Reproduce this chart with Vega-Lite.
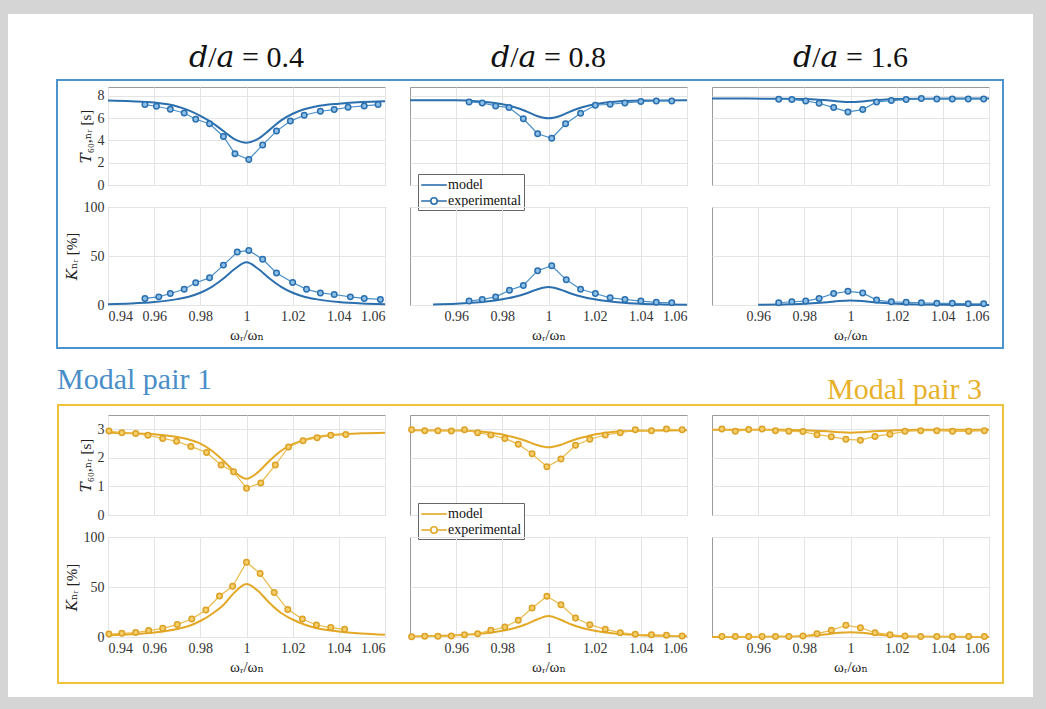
{
"$schema": "https://vega.github.io/schema/vega-lite/v6.json",
"background": "#d5d5d5",
"padding": {"left": 8, "top": 14, "right": 13, "bottom": 12},
"datasets": {"d": [
{"g":1,"c":1,"q":"T","s":"m","x":0.94,"y":7.58},{"g":1,"c":1,"q":"T","s":"m","x":0.95,"y":7.52},{"g":1,"c":1,"q":"T","s":"m","x":0.96,"y":7.4},{"g":1,"c":1,"q":"T","s":"m","x":0.97,"y":7.05},{"g":1,"c":1,"q":"T","s":"m","x":0.975,"y":6.7},{"g":1,"c":1,"q":"T","s":"m","x":0.98,"y":6.2},{"g":1,"c":1,"q":"T","s":"m","x":0.985,"y":5.6},{"g":1,"c":1,"q":"T","s":"m","x":0.99,"y":4.85},{"g":1,"c":1,"q":"T","s":"m","x":0.995,"y":4.1},{"g":1,"c":1,"q":"T","s":"m","x":1.0,"y":3.8},{"g":1,"c":1,"q":"T","s":"m","x":1.005,"y":4.15},{"g":1,"c":1,"q":"T","s":"m","x":1.01,"y":4.95},{"g":1,"c":1,"q":"T","s":"m","x":1.015,"y":5.8},{"g":1,"c":1,"q":"T","s":"m","x":1.02,"y":6.4},{"g":1,"c":1,"q":"T","s":"m","x":1.025,"y":6.8},{"g":1,"c":1,"q":"T","s":"m","x":1.03,"y":7.05},{"g":1,"c":1,"q":"T","s":"m","x":1.04,"y":7.3},{"g":1,"c":1,"q":"T","s":"m","x":1.05,"y":7.45},{"g":1,"c":1,"q":"T","s":"m","x":1.06,"y":7.52},
{"g":1,"c":1,"q":"T","s":"e","x":0.956,"y":7.22},{"g":1,"c":1,"q":"T","s":"e","x":0.961,"y":7.07},{"g":1,"c":1,"q":"T","s":"e","x":0.967,"y":6.8},{"g":1,"c":1,"q":"T","s":"e","x":0.973,"y":6.47},{"g":1,"c":1,"q":"T","s":"e","x":0.978,"y":5.9},{"g":1,"c":1,"q":"T","s":"e","x":0.984,"y":5.5},{"g":1,"c":1,"q":"T","s":"e","x":0.99,"y":4.36},{"g":1,"c":1,"q":"T","s":"e","x":0.995,"y":2.8},{"g":1,"c":1,"q":"T","s":"e","x":1.001,"y":2.29},{"g":1,"c":1,"q":"T","s":"e","x":1.007,"y":3.6},{"g":1,"c":1,"q":"T","s":"e","x":1.013,"y":4.84},{"g":1,"c":1,"q":"T","s":"e","x":1.019,"y":5.74},{"g":1,"c":1,"q":"T","s":"e","x":1.025,"y":6.26},{"g":1,"c":1,"q":"T","s":"e","x":1.032,"y":6.62},{"g":1,"c":1,"q":"T","s":"e","x":1.038,"y":6.77},{"g":1,"c":1,"q":"T","s":"e","x":1.044,"y":6.98},{"g":1,"c":1,"q":"T","s":"e","x":1.051,"y":7.1},{"g":1,"c":1,"q":"T","s":"e","x":1.057,"y":7.22},
{"g":1,"c":1,"q":"K","s":"m","x":0.94,"y":0.8},{"g":1,"c":1,"q":"K","s":"m","x":0.95,"y":1.5},{"g":1,"c":1,"q":"K","s":"m","x":0.96,"y":3.0},{"g":1,"c":1,"q":"K","s":"m","x":0.97,"y":6.0},{"g":1,"c":1,"q":"K","s":"m","x":0.975,"y":8.5},{"g":1,"c":1,"q":"K","s":"m","x":0.98,"y":12.5},{"g":1,"c":1,"q":"K","s":"m","x":0.985,"y":18.5},{"g":1,"c":1,"q":"K","s":"m","x":0.99,"y":27},{"g":1,"c":1,"q":"K","s":"m","x":0.995,"y":37},{"g":1,"c":1,"q":"K","s":"m","x":1.0,"y":43.5},{"g":1,"c":1,"q":"K","s":"m","x":1.005,"y":37},{"g":1,"c":1,"q":"K","s":"m","x":1.01,"y":27},{"g":1,"c":1,"q":"K","s":"m","x":1.015,"y":18.5},{"g":1,"c":1,"q":"K","s":"m","x":1.02,"y":12.5},{"g":1,"c":1,"q":"K","s":"m","x":1.025,"y":8.5},{"g":1,"c":1,"q":"K","s":"m","x":1.03,"y":6.0},{"g":1,"c":1,"q":"K","s":"m","x":1.04,"y":3.0},{"g":1,"c":1,"q":"K","s":"m","x":1.05,"y":1.5},{"g":1,"c":1,"q":"K","s":"m","x":1.06,"y":0.8},
{"g":1,"c":1,"q":"K","s":"e","x":0.956,"y":6.7},{"g":1,"c":1,"q":"K","s":"e","x":0.962,"y":8.3},{"g":1,"c":1,"q":"K","s":"e","x":0.967,"y":11.7},{"g":1,"c":1,"q":"K","s":"e","x":0.973,"y":16},{"g":1,"c":1,"q":"K","s":"e","x":0.978,"y":22.7},{"g":1,"c":1,"q":"K","s":"e","x":0.984,"y":27.7},{"g":1,"c":1,"q":"K","s":"e","x":0.99,"y":40.7},{"g":1,"c":1,"q":"K","s":"e","x":0.996,"y":54},{"g":1,"c":1,"q":"K","s":"e","x":1.001,"y":55.7},{"g":1,"c":1,"q":"K","s":"e","x":1.007,"y":46.7},{"g":1,"c":1,"q":"K","s":"e","x":1.013,"y":32.7},{"g":1,"c":1,"q":"K","s":"e","x":1.02,"y":23},{"g":1,"c":1,"q":"K","s":"e","x":1.026,"y":16},{"g":1,"c":1,"q":"K","s":"e","x":1.032,"y":12.3},{"g":1,"c":1,"q":"K","s":"e","x":1.038,"y":10.7},{"g":1,"c":1,"q":"K","s":"e","x":1.045,"y":8.3},{"g":1,"c":1,"q":"K","s":"e","x":1.051,"y":6.7},{"g":1,"c":1,"q":"K","s":"e","x":1.058,"y":5.7},
{"g":1,"c":2,"q":"T","s":"m","x":0.94,"y":7.62},{"g":1,"c":2,"q":"T","s":"m","x":0.96,"y":7.6},{"g":1,"c":2,"q":"T","s":"m","x":0.97,"y":7.5},{"g":1,"c":2,"q":"T","s":"m","x":0.975,"y":7.4},{"g":1,"c":2,"q":"T","s":"m","x":0.98,"y":7.25},{"g":1,"c":2,"q":"T","s":"m","x":0.985,"y":7.0},{"g":1,"c":2,"q":"T","s":"m","x":0.99,"y":6.65},{"g":1,"c":2,"q":"T","s":"m","x":0.995,"y":6.2},{"g":1,"c":2,"q":"T","s":"m","x":1.0,"y":6.0},{"g":1,"c":2,"q":"T","s":"m","x":1.005,"y":6.2},{"g":1,"c":2,"q":"T","s":"m","x":1.01,"y":6.65},{"g":1,"c":2,"q":"T","s":"m","x":1.015,"y":7.0},{"g":1,"c":2,"q":"T","s":"m","x":1.02,"y":7.25},{"g":1,"c":2,"q":"T","s":"m","x":1.025,"y":7.4},{"g":1,"c":2,"q":"T","s":"m","x":1.03,"y":7.5},{"g":1,"c":2,"q":"T","s":"m","x":1.04,"y":7.58},{"g":1,"c":2,"q":"T","s":"m","x":1.06,"y":7.62},
{"g":1,"c":2,"q":"T","s":"e","x":0.9656,"y":7.46},{"g":1,"c":2,"q":"T","s":"e","x":0.9713,"y":7.37},{"g":1,"c":2,"q":"T","s":"e","x":0.9771,"y":7.1},{"g":1,"c":2,"q":"T","s":"e","x":0.9829,"y":6.95},{"g":1,"c":2,"q":"T","s":"e","x":0.9891,"y":5.95},{"g":1,"c":2,"q":"T","s":"e","x":0.9953,"y":4.6},{"g":1,"c":2,"q":"T","s":"e","x":1.0014,"y":4.2},{"g":1,"c":2,"q":"T","s":"e","x":1.0074,"y":5.5},{"g":1,"c":2,"q":"T","s":"e","x":1.0139,"y":6.44},{"g":1,"c":2,"q":"T","s":"e","x":1.0203,"y":7.16},{"g":1,"c":2,"q":"T","s":"e","x":1.0267,"y":7.25},{"g":1,"c":2,"q":"T","s":"e","x":1.0331,"y":7.37},{"g":1,"c":2,"q":"T","s":"e","x":1.04,"y":7.49},{"g":1,"c":2,"q":"T","s":"e","x":1.0467,"y":7.55},{"g":1,"c":2,"q":"T","s":"e","x":1.0534,"y":7.55},
{"g":1,"c":2,"q":"K","s":"m","x":0.95,"y":0.5},{"g":1,"c":2,"q":"K","s":"m","x":0.96,"y":1.2},{"g":1,"c":2,"q":"K","s":"m","x":0.97,"y":2.8},{"g":1,"c":2,"q":"K","s":"m","x":0.975,"y":4},{"g":1,"c":2,"q":"K","s":"m","x":0.98,"y":5.8},{"g":1,"c":2,"q":"K","s":"m","x":0.985,"y":8.2},{"g":1,"c":2,"q":"K","s":"m","x":0.99,"y":11.5},{"g":1,"c":2,"q":"K","s":"m","x":0.995,"y":15.8},{"g":1,"c":2,"q":"K","s":"m","x":1.0,"y":18.3},{"g":1,"c":2,"q":"K","s":"m","x":1.005,"y":15.8},{"g":1,"c":2,"q":"K","s":"m","x":1.01,"y":11.5},{"g":1,"c":2,"q":"K","s":"m","x":1.015,"y":8.2},{"g":1,"c":2,"q":"K","s":"m","x":1.02,"y":5.8},{"g":1,"c":2,"q":"K","s":"m","x":1.025,"y":4},{"g":1,"c":2,"q":"K","s":"m","x":1.03,"y":2.8},{"g":1,"c":2,"q":"K","s":"m","x":1.04,"y":1.2},{"g":1,"c":2,"q":"K","s":"m","x":1.05,"y":0.6},{"g":1,"c":2,"q":"K","s":"m","x":1.06,"y":0.3},
{"g":1,"c":2,"q":"K","s":"e","x":0.9656,"y":4},{"g":1,"c":2,"q":"K","s":"e","x":0.9713,"y":5.7},{"g":1,"c":2,"q":"K","s":"e","x":0.9771,"y":8.3},{"g":1,"c":2,"q":"K","s":"e","x":0.9831,"y":15},{"g":1,"c":2,"q":"K","s":"e","x":0.9891,"y":20},{"g":1,"c":2,"q":"K","s":"e","x":0.9953,"y":35},{"g":1,"c":2,"q":"K","s":"e","x":1.0014,"y":40},{"g":1,"c":2,"q":"K","s":"e","x":1.0077,"y":25.7},{"g":1,"c":2,"q":"K","s":"e","x":1.0139,"y":16},{"g":1,"c":2,"q":"K","s":"e","x":1.0203,"y":11.7},{"g":1,"c":2,"q":"K","s":"e","x":1.0267,"y":7.3},{"g":1,"c":2,"q":"K","s":"e","x":1.0331,"y":5.7},{"g":1,"c":2,"q":"K","s":"e","x":1.04,"y":4},{"g":1,"c":2,"q":"K","s":"e","x":1.0467,"y":2.7},{"g":1,"c":2,"q":"K","s":"e","x":1.0534,"y":2.3},
{"g":1,"c":3,"q":"T","s":"m","x":0.94,"y":7.76},{"g":1,"c":3,"q":"T","s":"m","x":0.97,"y":7.75},{"g":1,"c":3,"q":"T","s":"m","x":0.98,"y":7.72},{"g":1,"c":3,"q":"T","s":"m","x":0.985,"y":7.68},{"g":1,"c":3,"q":"T","s":"m","x":0.99,"y":7.6},{"g":1,"c":3,"q":"T","s":"m","x":0.995,"y":7.5},{"g":1,"c":3,"q":"T","s":"m","x":1.0,"y":7.45},{"g":1,"c":3,"q":"T","s":"m","x":1.005,"y":7.5},{"g":1,"c":3,"q":"T","s":"m","x":1.01,"y":7.6},{"g":1,"c":3,"q":"T","s":"m","x":1.015,"y":7.68},{"g":1,"c":3,"q":"T","s":"m","x":1.02,"y":7.72},{"g":1,"c":3,"q":"T","s":"m","x":1.03,"y":7.75},{"g":1,"c":3,"q":"T","s":"m","x":1.06,"y":7.76},
{"g":1,"c":3,"q":"T","s":"e","x":0.9689,"y":7.7},{"g":1,"c":3,"q":"T","s":"e","x":0.9746,"y":7.67},{"g":1,"c":3,"q":"T","s":"e","x":0.9806,"y":7.55},{"g":1,"c":3,"q":"T","s":"e","x":0.9864,"y":7.34},{"g":1,"c":3,"q":"T","s":"e","x":0.9927,"y":6.95},{"g":1,"c":3,"q":"T","s":"e","x":0.9989,"y":6.56},{"g":1,"c":3,"q":"T","s":"e","x":1.0053,"y":6.77},{"g":1,"c":3,"q":"T","s":"e","x":1.0113,"y":7.46},{"g":1,"c":3,"q":"T","s":"e","x":1.0177,"y":7.58},{"g":1,"c":3,"q":"T","s":"e","x":1.0241,"y":7.67},{"g":1,"c":3,"q":"T","s":"e","x":1.0307,"y":7.76},{"g":1,"c":3,"q":"T","s":"e","x":1.0374,"y":7.73},{"g":1,"c":3,"q":"T","s":"e","x":1.0441,"y":7.73},{"g":1,"c":3,"q":"T","s":"e","x":1.051,"y":7.73},{"g":1,"c":3,"q":"T","s":"e","x":1.0577,"y":7.73},
{"g":1,"c":3,"q":"K","s":"m","x":0.96,"y":0.2},{"g":1,"c":3,"q":"K","s":"m","x":0.97,"y":0.5},{"g":1,"c":3,"q":"K","s":"m","x":0.98,"y":1.2},{"g":1,"c":3,"q":"K","s":"m","x":0.99,"y":2.8},{"g":1,"c":3,"q":"K","s":"m","x":0.995,"y":4},{"g":1,"c":3,"q":"K","s":"m","x":1.0,"y":4.5},{"g":1,"c":3,"q":"K","s":"m","x":1.005,"y":4},{"g":1,"c":3,"q":"K","s":"m","x":1.01,"y":2.8},{"g":1,"c":3,"q":"K","s":"m","x":1.02,"y":1.2},{"g":1,"c":3,"q":"K","s":"m","x":1.03,"y":0.5},{"g":1,"c":3,"q":"K","s":"m","x":1.04,"y":0.3},{"g":1,"c":3,"q":"K","s":"m","x":1.06,"y":0.1},
{"g":1,"c":3,"q":"K","s":"e","x":0.9689,"y":2.3},{"g":1,"c":3,"q":"K","s":"e","x":0.9746,"y":3.3},{"g":1,"c":3,"q":"K","s":"e","x":0.9806,"y":4},{"g":1,"c":3,"q":"K","s":"e","x":0.9864,"y":6.7},{"g":1,"c":3,"q":"K","s":"e","x":0.9927,"y":11.7},{"g":1,"c":3,"q":"K","s":"e","x":0.9989,"y":14},{"g":1,"c":3,"q":"K","s":"e","x":1.0053,"y":12.3},{"g":1,"c":3,"q":"K","s":"e","x":1.0113,"y":5},{"g":1,"c":3,"q":"K","s":"e","x":1.0177,"y":3.3},{"g":1,"c":3,"q":"K","s":"e","x":1.0241,"y":2.7},{"g":1,"c":3,"q":"K","s":"e","x":1.0307,"y":2.3},{"g":1,"c":3,"q":"K","s":"e","x":1.0374,"y":1.7},{"g":1,"c":3,"q":"K","s":"e","x":1.0441,"y":1.7},{"g":1,"c":3,"q":"K","s":"e","x":1.051,"y":1.3},{"g":1,"c":3,"q":"K","s":"e","x":1.0577,"y":1.3},
{"g":3,"c":1,"q":"T","s":"m","x":0.94,"y":2.88},{"g":3,"c":1,"q":"T","s":"m","x":0.95,"y":2.86},{"g":3,"c":1,"q":"T","s":"m","x":0.96,"y":2.83},{"g":3,"c":1,"q":"T","s":"m","x":0.97,"y":2.73},{"g":3,"c":1,"q":"T","s":"m","x":0.975,"y":2.64},{"g":3,"c":1,"q":"T","s":"m","x":0.98,"y":2.5},{"g":3,"c":1,"q":"T","s":"m","x":0.985,"y":2.25},{"g":3,"c":1,"q":"T","s":"m","x":0.99,"y":1.9},{"g":3,"c":1,"q":"T","s":"m","x":0.995,"y":1.5},{"g":3,"c":1,"q":"T","s":"m","x":1.0,"y":1.27},{"g":3,"c":1,"q":"T","s":"m","x":1.005,"y":1.5},{"g":3,"c":1,"q":"T","s":"m","x":1.01,"y":1.9},{"g":3,"c":1,"q":"T","s":"m","x":1.015,"y":2.25},{"g":3,"c":1,"q":"T","s":"m","x":1.02,"y":2.48},{"g":3,"c":1,"q":"T","s":"m","x":1.025,"y":2.62},{"g":3,"c":1,"q":"T","s":"m","x":1.03,"y":2.72},{"g":3,"c":1,"q":"T","s":"m","x":1.04,"y":2.82},{"g":3,"c":1,"q":"T","s":"m","x":1.05,"y":2.86},{"g":3,"c":1,"q":"T","s":"m","x":1.06,"y":2.88},
{"g":3,"c":1,"q":"T","s":"e","x":0.9404,"y":2.94},{"g":3,"c":1,"q":"T","s":"e","x":0.946,"y":2.88},{"g":3,"c":1,"q":"T","s":"e","x":0.952,"y":2.85},{"g":3,"c":1,"q":"T","s":"e","x":0.9573,"y":2.79},{"g":3,"c":1,"q":"T","s":"e","x":0.9637,"y":2.68},{"g":3,"c":1,"q":"T","s":"e","x":0.9697,"y":2.58},{"g":3,"c":1,"q":"T","s":"e","x":0.9759,"y":2.4},{"g":3,"c":1,"q":"T","s":"e","x":0.9827,"y":2.19},{"g":3,"c":1,"q":"T","s":"e","x":0.989,"y":1.75},{"g":3,"c":1,"q":"T","s":"e","x":0.9944,"y":1.51},{"g":3,"c":1,"q":"T","s":"e","x":1.0,"y":0.94},{"g":3,"c":1,"q":"T","s":"e","x":1.0062,"y":1.12},{"g":3,"c":1,"q":"T","s":"e","x":1.0125,"y":1.75},{"g":3,"c":1,"q":"T","s":"e","x":1.0182,"y":2.38},{"g":3,"c":1,"q":"T","s":"e","x":1.0245,"y":2.6},{"g":3,"c":1,"q":"T","s":"e","x":1.0306,"y":2.7},{"g":3,"c":1,"q":"T","s":"e","x":1.0365,"y":2.79},{"g":3,"c":1,"q":"T","s":"e","x":1.043,"y":2.82},
{"g":3,"c":1,"q":"K","s":"m","x":0.94,"y":1.5},{"g":3,"c":1,"q":"K","s":"m","x":0.95,"y":2.7},{"g":3,"c":1,"q":"K","s":"m","x":0.96,"y":4.5},{"g":3,"c":1,"q":"K","s":"m","x":0.97,"y":8},{"g":3,"c":1,"q":"K","s":"m","x":0.975,"y":11},{"g":3,"c":1,"q":"K","s":"m","x":0.98,"y":16},{"g":3,"c":1,"q":"K","s":"m","x":0.985,"y":23},{"g":3,"c":1,"q":"K","s":"m","x":0.99,"y":32},{"g":3,"c":1,"q":"K","s":"m","x":0.995,"y":45},{"g":3,"c":1,"q":"K","s":"m","x":1.0,"y":53},{"g":3,"c":1,"q":"K","s":"m","x":1.005,"y":46},{"g":3,"c":1,"q":"K","s":"m","x":1.01,"y":34},{"g":3,"c":1,"q":"K","s":"m","x":1.015,"y":24},{"g":3,"c":1,"q":"K","s":"m","x":1.02,"y":17.5},{"g":3,"c":1,"q":"K","s":"m","x":1.025,"y":12.5},{"g":3,"c":1,"q":"K","s":"m","x":1.03,"y":9},{"g":3,"c":1,"q":"K","s":"m","x":1.04,"y":5.5},{"g":3,"c":1,"q":"K","s":"m","x":1.05,"y":3.5},{"g":3,"c":1,"q":"K","s":"m","x":1.06,"y":2.2},
{"g":3,"c":1,"q":"K","s":"e","x":0.9404,"y":3},{"g":3,"c":1,"q":"K","s":"e","x":0.946,"y":3.7},{"g":3,"c":1,"q":"K","s":"e","x":0.952,"y":4.4},{"g":3,"c":1,"q":"K","s":"e","x":0.9576,"y":6.4},{"g":3,"c":1,"q":"K","s":"e","x":0.9637,"y":8.7},{"g":3,"c":1,"q":"K","s":"e","x":0.97,"y":12.4},{"g":3,"c":1,"q":"K","s":"e","x":0.9763,"y":18},{"g":3,"c":1,"q":"K","s":"e","x":0.9824,"y":27},{"g":3,"c":1,"q":"K","s":"e","x":0.9883,"y":41},{"g":3,"c":1,"q":"K","s":"e","x":0.994,"y":50.7},{"g":3,"c":1,"q":"K","s":"e","x":1.0,"y":74.8},{"g":3,"c":1,"q":"K","s":"e","x":1.0059,"y":63.4},{"g":3,"c":1,"q":"K","s":"e","x":1.012,"y":44.6},{"g":3,"c":1,"q":"K","s":"e","x":1.0179,"y":27.5},{"g":3,"c":1,"q":"K","s":"e","x":1.0242,"y":18},{"g":3,"c":1,"q":"K","s":"e","x":1.0303,"y":12},{"g":3,"c":1,"q":"K","s":"e","x":1.0365,"y":9.4},{"g":3,"c":1,"q":"K","s":"e","x":1.0425,"y":7.7},
{"g":3,"c":2,"q":"T","s":"m","x":0.94,"y":2.97},{"g":3,"c":2,"q":"T","s":"m","x":0.96,"y":2.96},{"g":3,"c":2,"q":"T","s":"m","x":0.97,"y":2.92},{"g":3,"c":2,"q":"T","s":"m","x":0.975,"y":2.88},{"g":3,"c":2,"q":"T","s":"m","x":0.98,"y":2.82},{"g":3,"c":2,"q":"T","s":"m","x":0.985,"y":2.72},{"g":3,"c":2,"q":"T","s":"m","x":0.99,"y":2.6},{"g":3,"c":2,"q":"T","s":"m","x":0.995,"y":2.45},{"g":3,"c":2,"q":"T","s":"m","x":1.0,"y":2.37},{"g":3,"c":2,"q":"T","s":"m","x":1.005,"y":2.45},{"g":3,"c":2,"q":"T","s":"m","x":1.01,"y":2.6},{"g":3,"c":2,"q":"T","s":"m","x":1.015,"y":2.72},{"g":3,"c":2,"q":"T","s":"m","x":1.02,"y":2.82},{"g":3,"c":2,"q":"T","s":"m","x":1.025,"y":2.88},{"g":3,"c":2,"q":"T","s":"m","x":1.03,"y":2.92},{"g":3,"c":2,"q":"T","s":"m","x":1.04,"y":2.95},{"g":3,"c":2,"q":"T","s":"m","x":1.06,"y":2.97},
{"g":3,"c":2,"q":"T","s":"e","x":0.9407,"y":2.98},{"g":3,"c":2,"q":"T","s":"e","x":0.9464,"y":2.95},{"g":3,"c":2,"q":"T","s":"e","x":0.9521,"y":2.95},{"g":3,"c":2,"q":"T","s":"e","x":0.9579,"y":2.94},{"g":3,"c":2,"q":"T","s":"e","x":0.9636,"y":2.98},{"g":3,"c":2,"q":"T","s":"e","x":0.9693,"y":2.88},{"g":3,"c":2,"q":"T","s":"e","x":0.975,"y":2.8},{"g":3,"c":2,"q":"T","s":"e","x":0.9811,"y":2.68},{"g":3,"c":2,"q":"T","s":"e","x":0.9869,"y":2.48},{"g":3,"c":2,"q":"T","s":"e","x":0.9929,"y":2.14},{"g":3,"c":2,"q":"T","s":"e","x":0.9993,"y":1.69},{"g":3,"c":2,"q":"T","s":"e","x":1.0054,"y":1.96},{"g":3,"c":2,"q":"T","s":"e","x":1.0117,"y":2.44},{"g":3,"c":2,"q":"T","s":"e","x":1.0179,"y":2.65},{"g":3,"c":2,"q":"T","s":"e","x":1.0246,"y":2.8},{"g":3,"c":2,"q":"T","s":"e","x":1.0311,"y":2.88},{"g":3,"c":2,"q":"T","s":"e","x":1.0376,"y":2.98},{"g":3,"c":2,"q":"T","s":"e","x":1.0446,"y":2.95},{"g":3,"c":2,"q":"T","s":"e","x":1.0511,"y":3.01},{"g":3,"c":2,"q":"T","s":"e","x":1.0579,"y":2.98},
{"g":3,"c":2,"q":"K","s":"m","x":0.94,"y":0.6},{"g":3,"c":2,"q":"K","s":"m","x":0.95,"y":1},{"g":3,"c":2,"q":"K","s":"m","x":0.96,"y":1.7},{"g":3,"c":2,"q":"K","s":"m","x":0.97,"y":3.2},{"g":3,"c":2,"q":"K","s":"m","x":0.975,"y":4.5},{"g":3,"c":2,"q":"K","s":"m","x":0.98,"y":6.2},{"g":3,"c":2,"q":"K","s":"m","x":0.985,"y":8.8},{"g":3,"c":2,"q":"K","s":"m","x":0.99,"y":12.5},{"g":3,"c":2,"q":"K","s":"m","x":0.995,"y":17.5},{"g":3,"c":2,"q":"K","s":"m","x":1.0,"y":21},{"g":3,"c":2,"q":"K","s":"m","x":1.005,"y":17.5},{"g":3,"c":2,"q":"K","s":"m","x":1.01,"y":12.5},{"g":3,"c":2,"q":"K","s":"m","x":1.015,"y":8.8},{"g":3,"c":2,"q":"K","s":"m","x":1.02,"y":6.2},{"g":3,"c":2,"q":"K","s":"m","x":1.025,"y":4.5},{"g":3,"c":2,"q":"K","s":"m","x":1.03,"y":3.2},{"g":3,"c":2,"q":"K","s":"m","x":1.04,"y":1.8},{"g":3,"c":2,"q":"K","s":"m","x":1.05,"y":1.1},{"g":3,"c":2,"q":"K","s":"m","x":1.06,"y":0.7},
{"g":3,"c":2,"q":"K","s":"e","x":0.9407,"y":0.3},{"g":3,"c":2,"q":"K","s":"e","x":0.9464,"y":0.7},{"g":3,"c":2,"q":"K","s":"e","x":0.9521,"y":0.7},{"g":3,"c":2,"q":"K","s":"e","x":0.9579,"y":1},{"g":3,"c":2,"q":"K","s":"e","x":0.9636,"y":2.3},{"g":3,"c":2,"q":"K","s":"e","x":0.9693,"y":3.3},{"g":3,"c":2,"q":"K","s":"e","x":0.975,"y":6.7},{"g":3,"c":2,"q":"K","s":"e","x":0.9811,"y":10},{"g":3,"c":2,"q":"K","s":"e","x":0.9869,"y":16.7},{"g":3,"c":2,"q":"K","s":"e","x":0.9929,"y":29},{"g":3,"c":2,"q":"K","s":"e","x":0.9993,"y":40.7},{"g":3,"c":2,"q":"K","s":"e","x":1.0054,"y":32.3},{"g":3,"c":2,"q":"K","s":"e","x":1.0117,"y":19},{"g":3,"c":2,"q":"K","s":"e","x":1.0179,"y":12.3},{"g":3,"c":2,"q":"K","s":"e","x":1.0246,"y":7.7},{"g":3,"c":2,"q":"K","s":"e","x":1.0311,"y":4.3},{"g":3,"c":2,"q":"K","s":"e","x":1.0376,"y":2.7},{"g":3,"c":2,"q":"K","s":"e","x":1.0446,"y":2.3},{"g":3,"c":2,"q":"K","s":"e","x":1.0511,"y":1.7},{"g":3,"c":2,"q":"K","s":"e","x":1.0579,"y":1},
{"g":3,"c":3,"q":"T","s":"m","x":0.94,"y":2.98},{"g":3,"c":3,"q":"T","s":"m","x":0.97,"y":2.98},{"g":3,"c":3,"q":"T","s":"m","x":0.98,"y":2.97},{"g":3,"c":3,"q":"T","s":"m","x":0.99,"y":2.93},{"g":3,"c":3,"q":"T","s":"m","x":0.995,"y":2.9},{"g":3,"c":3,"q":"T","s":"m","x":1.0,"y":2.88},{"g":3,"c":3,"q":"T","s":"m","x":1.005,"y":2.9},{"g":3,"c":3,"q":"T","s":"m","x":1.01,"y":2.93},{"g":3,"c":3,"q":"T","s":"m","x":1.02,"y":2.97},{"g":3,"c":3,"q":"T","s":"m","x":1.03,"y":2.98},{"g":3,"c":3,"q":"T","s":"m","x":1.06,"y":2.98},
{"g":3,"c":3,"q":"T","s":"e","x":0.9443,"y":3.01},{"g":3,"c":3,"q":"T","s":"e","x":0.9501,"y":2.93},{"g":3,"c":3,"q":"T","s":"e","x":0.9559,"y":2.99},{"g":3,"c":3,"q":"T","s":"e","x":0.9617,"y":3.01},{"g":3,"c":3,"q":"T","s":"e","x":0.9675,"y":2.95},{"g":3,"c":3,"q":"T","s":"e","x":0.9733,"y":2.93},{"g":3,"c":3,"q":"T","s":"e","x":0.9794,"y":2.92},{"g":3,"c":3,"q":"T","s":"e","x":0.9855,"y":2.81},{"g":3,"c":3,"q":"T","s":"e","x":0.9917,"y":2.74},{"g":3,"c":3,"q":"T","s":"e","x":0.998,"y":2.65},{"g":3,"c":3,"q":"T","s":"e","x":1.0043,"y":2.62},{"g":3,"c":3,"q":"T","s":"e","x":1.0106,"y":2.75},{"g":3,"c":3,"q":"T","s":"e","x":1.0171,"y":2.83},{"g":3,"c":3,"q":"T","s":"e","x":1.0236,"y":2.93},{"g":3,"c":3,"q":"T","s":"e","x":1.0304,"y":2.95},{"g":3,"c":3,"q":"T","s":"e","x":1.0374,"y":2.95},{"g":3,"c":3,"q":"T","s":"e","x":1.0442,"y":2.93},{"g":3,"c":3,"q":"T","s":"e","x":1.0512,"y":2.93},{"g":3,"c":3,"q":"T","s":"e","x":1.058,"y":2.95},
{"g":3,"c":3,"q":"K","s":"m","x":0.94,"y":0.1},{"g":3,"c":3,"q":"K","s":"m","x":0.97,"y":0.4},{"g":3,"c":3,"q":"K","s":"m","x":0.98,"y":1},{"g":3,"c":3,"q":"K","s":"m","x":0.99,"y":2.8},{"g":3,"c":3,"q":"K","s":"m","x":0.995,"y":4.2},{"g":3,"c":3,"q":"K","s":"m","x":1.0,"y":4.8},{"g":3,"c":3,"q":"K","s":"m","x":1.005,"y":4.2},{"g":3,"c":3,"q":"K","s":"m","x":1.01,"y":2.8},{"g":3,"c":3,"q":"K","s":"m","x":1.02,"y":1},{"g":3,"c":3,"q":"K","s":"m","x":1.03,"y":0.4},{"g":3,"c":3,"q":"K","s":"m","x":1.06,"y":0.1},
{"g":3,"c":3,"q":"K","s":"e","x":0.9443,"y":0.5},{"g":3,"c":3,"q":"K","s":"e","x":0.9501,"y":0.5},{"g":3,"c":3,"q":"K","s":"e","x":0.9559,"y":0.5},{"g":3,"c":3,"q":"K","s":"e","x":0.9617,"y":0.5},{"g":3,"c":3,"q":"K","s":"e","x":0.9675,"y":0.5},{"g":3,"c":3,"q":"K","s":"e","x":0.9733,"y":0.5},{"g":3,"c":3,"q":"K","s":"e","x":0.9794,"y":1},{"g":3,"c":3,"q":"K","s":"e","x":0.9855,"y":3.3},{"g":3,"c":3,"q":"K","s":"e","x":0.9917,"y":6.7},{"g":3,"c":3,"q":"K","s":"e","x":0.998,"y":11.7},{"g":3,"c":3,"q":"K","s":"e","x":1.0043,"y":9.3},{"g":3,"c":3,"q":"K","s":"e","x":1.0106,"y":4.3},{"g":3,"c":3,"q":"K","s":"e","x":1.0171,"y":2.3},{"g":3,"c":3,"q":"K","s":"e","x":1.0236,"y":1},{"g":3,"c":3,"q":"K","s":"e","x":1.0304,"y":0.5},{"g":3,"c":3,"q":"K","s":"e","x":1.0374,"y":0.5},{"g":3,"c":3,"q":"K","s":"e","x":1.0442,"y":0.5},{"g":3,"c":3,"q":"K","s":"e","x":1.0512,"y":0.5},{"g":3,"c":3,"q":"K","s":"e","x":1.058,"y":0.5}
]},
"hconcat": [
 {"width": 1, "height": 1, "data": {"values": [{"v": 0}, {"v": 1}]}, "view": {"stroke": null},
  "mark": {"type": "point", "opacity": 0},
  "encoding": {"fill": {"field": "v", "type": "quantitative", "scale": {"range": ["#ffffff", "#ffffff"]},
   "legend": {"orient": "none", "legendX": -99, "legendY": -73, "direction": "vertical", "gradientLength": 683, "gradientThickness": 1025, "gradientStrokeWidth": 0, "labelExpr": "''", "labelOpacity": 0, "labelFontSize": 6, "labelOffset": -80, "padding": 0, "title": null}}}},
 {"vconcat": [
 {"concat": [
  {"width": 277, "height": 98, "data": {"name": "d"}, "transform": [{"filter": "datum.g==1 && datum.c==1 && datum.q=='T'"}],
   "title": {"text": "𝑑/𝑎 = 0.4", "fontSize": 30, "offset": 7},
   "encoding": {"x": {"field": "x", "type": "quantitative", "scale": {"domain": [0.94, 1.06], "nice": false, "zero": false}, "axis": {"values": [0.94,0.96,0.98,1,1.02,1.04,1.06], "labels": false, "title": null}},
                "y": {"field": "y", "type": "quantitative", "scale": {"domain": [0, 8.8], "nice": false}, "axis": {"values": [0,2,4,6,8], "title": "𝑇₆₀,ₙᵣ [s]"}}},
   "layer": [
    {"transform": [{"filter": "datum.s=='m'"}], "mark": {"type": "line", "color": "#2b6fae", "strokeWidth": 2, "interpolate": "monotone"}},
    {"transform": [{"filter": "datum.s=='e'"}], "mark": {"type": "line", "color": "#4a90c8", "strokeWidth": 1.2, "point": {"filled": true, "fill": "#8cc0e8", "stroke": "#2b6fae", "strokeWidth": 1.5, "size": 30}}},
    {"mark": {"type": "point", "opacity": 0}, "encoding": {"color": {"field": "y", "type": "quantitative", "scale": {"range": ["rgba(255,255,255,0)", "rgba(255,255,255,0)"]},
      "legend": {"orient": "none", "legendX": -51, "legendY": -7, "direction": "vertical", "gradientLength": 268, "gradientThickness": 946, "gradientStrokeColor": "#4d94cf", "gradientStrokeWidth": 2, "labelExpr": "''", "labelOpacity": 0, "labelFontSize": 6, "labelOffset": -60, "padding": 0, "title": "Modal pair 1", "titleOrient": "bottom", "titleAnchor": "start", "titleFont": "Liberation Serif", "titleFontSize": 30, "titleFontWeight": "normal", "titleColor": "#4a8ec9", "titlePadding": 16, "titleLimit": 600}}}}
   ]},
  {"width": 277, "height": 98, "data": {"name": "d"}, "transform": [{"filter": "datum.g==1 && datum.c==2 && datum.q=='T'"}],
   "title": {"text": "𝑑/𝑎 = 0.8", "fontSize": 30, "offset": 14},
   "encoding": {"x": {"field": "x", "type": "quantitative", "scale": {"domain": [0.94, 1.06], "nice": false, "zero": false}, "axis": {"values": [0.96,0.98,1,1.02,1.04,1.06], "labels": false, "title": null}},
                "y": {"field": "y", "type": "quantitative", "scale": {"domain": [0, 8.8], "nice": false}, "axis": {"values": [0,2,4,6,8], "labels": false, "title": null}}},
   "layer": [
    {"transform": [{"filter": "datum.s=='m'"}], "mark": {"type": "line", "color": "#2b6fae", "strokeWidth": 2, "interpolate": "monotone"}},
    {"transform": [{"filter": "datum.s=='e'"}], "mark": {"type": "line", "color": "#4a90c8", "strokeWidth": 1.2, "point": {"filled": true, "fill": "#8cc0e8", "stroke": "#2b6fae", "strokeWidth": 1.5, "size": 30}}},
    {"mark": {"type": "point", "opacity": 0}, "encoding": {"shape": {"field": "s", "type": "nominal", "scale": {"domain": ["m", "e"], "range": ["M-1.6,0L1.6,0", "M-1.6,0L-0.4,0M0.4,0L1.6,0M-0.4,0A0.4,0.4 0 1,0 0.4,0A0.4,0.4 0 1,0 -0.4,0"]},
      "legend": {"orient": "none", "legendX": 8, "legendY": 87, "title": null, "labelExpr": "datum.value == 'm' ? 'model' : 'experimental'", "symbolSize": 256, "symbolOffset": 5, "symbolStrokeWidth": 1.6, "symbolStrokeColor": "#2b6fae", "symbolFillColor": "#8cc0e8", "symbolOpacity": 1, "labelFont": "Liberation Serif", "labelFontSize": 14, "labelColor": "#111", "labelOffset": 5, "fillColor": "white", "strokeColor": "#666", "padding": 2, "rowPadding": 0}}}}
   ]},
  {"width": 277, "height": 98, "data": {"name": "d"}, "transform": [{"filter": "datum.g==1 && datum.c==3 && datum.q=='T'"}],
   "title": {"text": "𝑑/𝑎 = 1.6", "fontSize": 30, "offset": 14},
   "encoding": {"x": {"field": "x", "type": "quantitative", "scale": {"domain": [0.94, 1.06], "nice": false, "zero": false}, "axis": {"values": [0.96,0.98,1,1.02,1.04,1.06], "labels": false, "title": null}},
                "y": {"field": "y", "type": "quantitative", "scale": {"domain": [0, 8.8], "nice": false}, "axis": {"values": [0,2,4,6,8], "labels": false, "title": null}}},
   "layer": [
    {"transform": [{"filter": "datum.s=='m'"}], "mark": {"type": "line", "color": "#2b6fae", "strokeWidth": 2, "interpolate": "monotone"}},
    {"transform": [{"filter": "datum.s=='e'"}], "mark": {"type": "line", "color": "#4a90c8", "strokeWidth": 1.2, "point": {"filled": true, "fill": "#8cc0e8", "stroke": "#2b6fae", "strokeWidth": 1.5, "size": 30}}}
   ]},
  {"width": 277, "height": 98, "data": {"name": "d"}, "transform": [{"filter": "datum.g==1 && datum.c==1 && datum.q=='K'"}],
   "encoding": {"x": {"field": "x", "type": "quantitative", "scale": {"domain": [0.94, 1.06], "nice": false, "zero": false}, "axis": {"values": [0.94,0.96,0.98,1,1.02,1.04,1.06], "format": ".2~f", "title": "ωᵣ/ωₙ"}},
                "y": {"field": "y", "type": "quantitative", "scale": {"domain": [0, 100], "nice": false}, "axis": {"values": [0,50,100], "title": "𝐾ₙᵣ [%]"}}},
   "layer": [
    {"transform": [{"filter": "datum.s=='m'"}], "mark": {"type": "line", "color": "#2b6fae", "strokeWidth": 2, "interpolate": "monotone"}},
    {"transform": [{"filter": "datum.s=='e'"}], "mark": {"type": "line", "color": "#4a90c8", "strokeWidth": 1.2, "point": {"filled": true, "fill": "#8cc0e8", "stroke": "#2b6fae", "strokeWidth": 1.5, "size": 30}}}
   ]},
  {"width": 277, "height": 98, "data": {"name": "d"}, "transform": [{"filter": "datum.g==1 && datum.c==2 && datum.q=='K'"}],
   "encoding": {"x": {"field": "x", "type": "quantitative", "scale": {"domain": [0.94, 1.06], "nice": false, "zero": false}, "axis": {"values": [0.96,0.98,1,1.02,1.04,1.06], "format": ".2~f", "title": "ωᵣ/ωₙ"}},
                "y": {"field": "y", "type": "quantitative", "scale": {"domain": [0, 100], "nice": false}, "axis": {"values": [0,50,100], "labels": false, "title": null}}},
   "layer": [
    {"transform": [{"filter": "datum.s=='m'"}], "mark": {"type": "line", "color": "#2b6fae", "strokeWidth": 2, "interpolate": "monotone"}},
    {"transform": [{"filter": "datum.s=='e'"}], "mark": {"type": "line", "color": "#4a90c8", "strokeWidth": 1.2, "point": {"filled": true, "fill": "#8cc0e8", "stroke": "#2b6fae", "strokeWidth": 1.5, "size": 30}}}
   ]},
  {"width": 277, "height": 98, "data": {"name": "d"}, "transform": [{"filter": "datum.g==1 && datum.c==3 && datum.q=='K'"}],
   "encoding": {"x": {"field": "x", "type": "quantitative", "scale": {"domain": [0.94, 1.06], "nice": false, "zero": false}, "axis": {"values": [0.96,0.98,1,1.02,1.04,1.06], "format": ".2~f", "title": "ωᵣ/ωₙ"}},
                "y": {"field": "y", "type": "quantitative", "scale": {"domain": [0, 100], "nice": false}, "axis": {"values": [0,50,100], "labels": false, "title": null}}},
   "layer": [
    {"transform": [{"filter": "datum.s=='m'"}], "mark": {"type": "line", "color": "#2b6fae", "strokeWidth": 2, "interpolate": "monotone"}},
    {"transform": [{"filter": "datum.s=='e'"}], "mark": {"type": "line", "color": "#4a90c8", "strokeWidth": 1.2, "point": {"filled": true, "fill": "#8cc0e8", "stroke": "#2b6fae", "strokeWidth": 1.5, "size": 30}}}
   ]}
 ], "columns": 3, "bounds": "flush", "spacing": {"row": 22, "column": 25},
 "resolve": {"scale": {"color": "independent", "shape": "independent", "fill": "independent"}}},
 {"concat": [
  {"width": 277, "height": 100, "data": {"name": "d"}, "transform": [{"filter": "datum.g==3 && datum.c==1 && datum.q=='T'"}],
   "encoding": {"x": {"field": "x", "type": "quantitative", "scale": {"domain": [0.94, 1.06], "nice": false, "zero": false}, "axis": {"values": [0.94,0.96,0.98,1,1.02,1.04,1.06], "labels": false, "title": null}},
                "y": {"field": "y", "type": "quantitative", "scale": {"domain": [0, 3.5], "nice": false}, "axis": {"values": [0,1,2,3], "title": "𝑇₆₀,ₙᵣ [s]"}}},
   "layer": [
    {"transform": [{"filter": "datum.s=='m'"}], "mark": {"type": "line", "color": "#e3a825", "strokeWidth": 2, "interpolate": "monotone"}},
    {"transform": [{"filter": "datum.s=='e'"}], "mark": {"type": "line", "color": "#ebbb4a", "strokeWidth": 1.2, "point": {"filled": true, "fill": "#f5cf6a", "stroke": "#dca126", "strokeWidth": 1.5, "size": 30}}},
    {"mark": {"type": "point", "opacity": 0}, "encoding": {"color": {"field": "y", "type": "quantitative", "scale": {"range": ["rgba(255,255,255,0)", "rgba(255,255,255,0)"]},
      "legend": {"orient": "none", "legendX": -50, "legendY": -40, "direction": "vertical", "gradientLength": 278, "gradientThickness": 945, "gradientStrokeColor": "#f0c23a", "gradientStrokeWidth": 2, "labelExpr": "''", "labelOpacity": 0, "labelFontSize": 6, "labelOffset": -60, "padding": 0, "title": "Modal pair 3\u2800", "titleOrient": "top", "titleAnchor": "end", "titleFont": "Liberation Serif", "titleFontSize": 30, "titleFontWeight": "normal", "titleColor": "#e8b12b", "titlePadding": 0, "titleLimit": 600}}}}
   ]},
  {"width": 277, "height": 100, "data": {"name": "d"}, "transform": [{"filter": "datum.g==3 && datum.c==2 && datum.q=='T'"}],
   "encoding": {"x": {"field": "x", "type": "quantitative", "scale": {"domain": [0.94, 1.06], "nice": false, "zero": false}, "axis": {"values": [0.96,0.98,1,1.02,1.04,1.06], "labels": false, "title": null}},
                "y": {"field": "y", "type": "quantitative", "scale": {"domain": [0, 3.5], "nice": false}, "axis": {"values": [0,1,2,3], "labels": false, "title": null}}},
   "layer": [
    {"transform": [{"filter": "datum.s=='m'"}], "mark": {"type": "line", "color": "#e3a825", "strokeWidth": 2, "interpolate": "monotone"}},
    {"transform": [{"filter": "datum.s=='e'"}], "mark": {"type": "line", "color": "#ebbb4a", "strokeWidth": 1.2, "point": {"filled": true, "fill": "#f5cf6a", "stroke": "#dca126", "strokeWidth": 1.5, "size": 30}}},
    {"mark": {"type": "point", "opacity": 0}, "encoding": {"shape": {"field": "s", "type": "nominal", "scale": {"domain": ["m", "e"], "range": ["M-1.6,0L1.6,0", "M-1.6,0L-0.4,0M0.4,0L1.6,0M-0.4,0A0.4,0.4 0 1,0 0.4,0A0.4,0.4 0 1,0 -0.4,0"]},
      "legend": {"orient": "none", "legendX": 8, "legendY": 88, "title": null, "labelExpr": "datum.value == 'm' ? 'model' : 'experimental'", "symbolSize": 256, "symbolOffset": 5, "symbolStrokeWidth": 1.6, "symbolStrokeColor": "#e3a825", "symbolFillColor": "#f5cf6a", "symbolOpacity": 1, "labelFont": "Liberation Serif", "labelFontSize": 14, "labelColor": "#111", "labelOffset": 5, "fillColor": "white", "strokeColor": "#666", "padding": 2, "rowPadding": 0}}}}
   ]},
  {"width": 277, "height": 100, "data": {"name": "d"}, "transform": [{"filter": "datum.g==3 && datum.c==3 && datum.q=='T'"}],
   "encoding": {"x": {"field": "x", "type": "quantitative", "scale": {"domain": [0.94, 1.06], "nice": false, "zero": false}, "axis": {"values": [0.96,0.98,1,1.02,1.04,1.06], "labels": false, "title": null}},
                "y": {"field": "y", "type": "quantitative", "scale": {"domain": [0, 3.5], "nice": false}, "axis": {"values": [0,1,2,3], "labels": false, "title": null}}},
   "layer": [
    {"transform": [{"filter": "datum.s=='m'"}], "mark": {"type": "line", "color": "#e3a825", "strokeWidth": 2, "interpolate": "monotone"}},
    {"transform": [{"filter": "datum.s=='e'"}], "mark": {"type": "line", "color": "#ebbb4a", "strokeWidth": 1.2, "point": {"filled": true, "fill": "#f5cf6a", "stroke": "#dca126", "strokeWidth": 1.5, "size": 30}}}
   ]},
  {"width": 277, "height": 100, "data": {"name": "d"}, "transform": [{"filter": "datum.g==3 && datum.c==1 && datum.q=='K'"}],
   "encoding": {"x": {"field": "x", "type": "quantitative", "scale": {"domain": [0.94, 1.06], "nice": false, "zero": false}, "axis": {"values": [0.94,0.96,0.98,1,1.02,1.04,1.06], "format": ".2~f", "title": "ωᵣ/ωₙ"}},
                "y": {"field": "y", "type": "quantitative", "scale": {"domain": [0, 100], "nice": false}, "axis": {"values": [0,50,100], "title": "𝐾ₙᵣ [%]"}}},
   "layer": [
    {"transform": [{"filter": "datum.s=='m'"}], "mark": {"type": "line", "color": "#e3a825", "strokeWidth": 2, "interpolate": "monotone"}},
    {"transform": [{"filter": "datum.s=='e'"}], "mark": {"type": "line", "color": "#ebbb4a", "strokeWidth": 1.2, "point": {"filled": true, "fill": "#f5cf6a", "stroke": "#dca126", "strokeWidth": 1.5, "size": 30}}}
   ]},
  {"width": 277, "height": 100, "data": {"name": "d"}, "transform": [{"filter": "datum.g==3 && datum.c==2 && datum.q=='K'"}],
   "encoding": {"x": {"field": "x", "type": "quantitative", "scale": {"domain": [0.94, 1.06], "nice": false, "zero": false}, "axis": {"values": [0.96,0.98,1,1.02,1.04,1.06], "format": ".2~f", "title": "ωᵣ/ωₙ"}},
                "y": {"field": "y", "type": "quantitative", "scale": {"domain": [0, 100], "nice": false}, "axis": {"values": [0,50,100], "labels": false, "title": null}}},
   "layer": [
    {"transform": [{"filter": "datum.s=='m'"}], "mark": {"type": "line", "color": "#e3a825", "strokeWidth": 2, "interpolate": "monotone"}},
    {"transform": [{"filter": "datum.s=='e'"}], "mark": {"type": "line", "color": "#ebbb4a", "strokeWidth": 1.2, "point": {"filled": true, "fill": "#f5cf6a", "stroke": "#dca126", "strokeWidth": 1.5, "size": 30}}}
   ]},
  {"width": 277, "height": 100, "data": {"name": "d"}, "transform": [{"filter": "datum.g==3 && datum.c==3 && datum.q=='K'"}],
   "encoding": {"x": {"field": "x", "type": "quantitative", "scale": {"domain": [0.94, 1.06], "nice": false, "zero": false}, "axis": {"values": [0.96,0.98,1,1.02,1.04,1.06], "format": ".2~f", "title": "ωᵣ/ωₙ"}},
                "y": {"field": "y", "type": "quantitative", "scale": {"domain": [0, 100], "nice": false}, "axis": {"values": [0,50,100], "labels": false, "title": null}}},
   "layer": [
    {"transform": [{"filter": "datum.s=='m'"}], "mark": {"type": "line", "color": "#e3a825", "strokeWidth": 2, "interpolate": "monotone"}},
    {"transform": [{"filter": "datum.s=='e'"}], "mark": {"type": "line", "color": "#ebbb4a", "strokeWidth": 1.2, "point": {"filled": true, "fill": "#f5cf6a", "stroke": "#dca126", "strokeWidth": 1.5, "size": 30}}}
   ]}
 ], "columns": 3, "bounds": "flush", "spacing": {"row": 22, "column": 25},
 "resolve": {"scale": {"color": "independent", "shape": "independent", "fill": "independent"}}}
 ],
 "bounds": "flush",
 "spacing": 328,
 "resolve": {"scale": {"color": "independent", "shape": "independent", "fill": "independent"}}}
],
"bounds": "flush",
"spacing": 0,
"resolve": {"scale": {"color": "independent", "shape": "independent", "fill": "independent"}},
"config": {
 "view": {"stroke": "#9a9a9a", "strokeWidth": 1},
 "axis": {"labelFont": "Liberation Serif", "labelFontSize": 14, "labelColor": "#333", "titleFont": "Liberation Serif, DejaVu Serif", "titleFontSize": 15, "titleFontWeight": "normal", "titleColor": "#222", "gridColor": "#e4e4e4", "gridOpacity": 1, "domain": false, "ticks": false, "labelPadding": 4, "titlePadding": 4},
 "title": {"font": "Liberation Serif, DejaVu Serif", "fontWeight": "normal", "color": "#111"}
}
}
